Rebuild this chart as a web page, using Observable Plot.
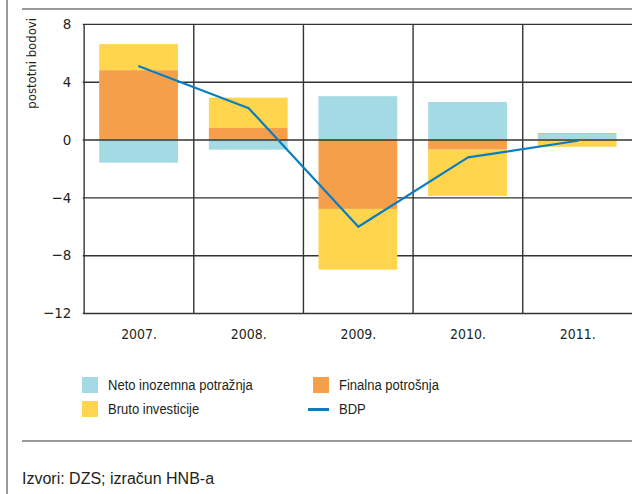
<!DOCTYPE html>
<html>
<head>
<meta charset="utf-8">
<script src="https://cdn.jsdelivr.net/npm/d3@7"></script>
<script src="https://cdn.jsdelivr.net/npm/@observablehq/plot@0.6"></script>
<style>
  html, body { margin: 0; padding: 0; background: #fff; overflow: hidden; }
  #wrap { position: relative; width: 632px; height: 494px; overflow: hidden; background: #fff; }
  .narrow { font-family: "Liberation Sans Narrow", "Arial Narrow", "DejaVu Sans Condensed", sans-serif; color: #231f20; }
  .cond { font-family: "Liberation Sans", Arial, sans-serif; color: #231f20; transform: scaleX(0.84); transform-origin: 0 50%; }
  .abs { position: absolute; }
  #chart { position: absolute; left: 0; top: 0; }
</style>
</head>
<body>
<div id="wrap">
  <div class="abs" style="left:6px;top:0;width:1.5px;height:494px;background:#9a9a9a"></div>
  <div class="abs" style="left:22px;top:8px;width:610px;height:2px;background:#9a9a9a"></div>
  <div class="abs" style="left:22px;top:440px;width:610px;height:2px;background:#9a9a9a"></div>
  <div id="chart"></div>
  <div id="ylabel" class="abs narrow" style="left:24px;top:18px;font-size:13px;line-height:16px;writing-mode:vertical-rl;transform:rotate(180deg);white-space:nowrap">postotni bodovi</div>
  <div id="legend"></div>
  <div class="abs" style="left:22px;top:470px;font-family:'Liberation Sans',Arial,sans-serif;font-size:16px;color:#231f20">Izvori: DZS; izračun HNB-a</div>
</div>
<script>
const years = ["2007.", "2008.", "2009.", "2010.", "2011."];
const seriesNames = ["Neto inozemna potražnja", "Finalna potrošnja", "Bruto investicije"];
const netoInozemna = [-1.6, -0.7, 3.0, 2.6, 0.4];
const finalnaPotrosnja = [4.8, 0.8, -4.8, -0.7, 0.05];
const brutoInvesticije = [1.8, 2.1, -4.2, -3.2, -0.5];
const bdp = [5.1, 2.2, -6.0, -1.2, -0.05];
const yTicks = [-12, -8, -4, 0, 4, 8];
const colors = ["#A3DAE3", "#F69F4A", "#FED54C"];
const lineColor = "#0A7DC0";

const seriesValues = [netoInozemna, finalnaPotrosnja, brutoInvesticije];
const barData = [];
seriesNames.forEach((s, i) => years.forEach((y, j) => barData.push({year: y, series: s, value: seriesValues[i][j]})));
const lineData = years.map((y, j) => ({year: y, value: bdp[j]}));

const W = 634, H = 345, mL = 83, mR = 0, mT = 24, mB = 31;
const step = (W - mL - mR) / years.length;
const gridColor = "#333";

const chart = Plot.plot({
  width: W, height: H,
  marginLeft: mL, marginRight: mR, marginTop: mT, marginBottom: mB,
  style: {fontFamily: '"Liberation Sans Narrow", "Arial Narrow", "DejaVu Sans Condensed", sans-serif', fontSize: "14px", color: "#231f20", background: "transparent"},
  x: {domain: years, padding: 0, label: null},
  y: {domain: [-12, 8], label: null},
  color: {domain: seriesNames, range: colors},
  marks: [
    Plot.ruleY(yTicks.filter(d => d !== 0), {stroke: gridColor, strokeWidth: 1.4}),
    Plot.ruleX(years, {x: d => d, dx: -step / 2, stroke: gridColor, strokeWidth: 1.4}),
    Plot.barY(barData, Plot.stackY({order: null}, {x: "year", y: "value", fill: "series", insetLeft: 15.5, insetRight: 15.5})),
    Plot.ruleY([0], {stroke: gridColor, strokeWidth: 1.4}),
    Plot.line(lineData, {x: "year", y: "value", stroke: lineColor, strokeWidth: 2.2}),
    Plot.axisY(yTicks, {tickSize: 0, tickPadding: 12, fontSize: 15}),
    Plot.axisX({tickSize: 0, tickPadding: 16, fontSize: 14})
  ]
});
document.getElementById("chart").appendChild(chart);

const legend = document.getElementById("legend");
const items = [
  {label: seriesNames[0], color: colors[0], x: 82, y: 377, kind: "box"},
  {label: seriesNames[2], color: colors[2], x: 82, y: 401, kind: "box"},
  {label: seriesNames[1], color: colors[1], x: 313, y: 377, kind: "box"},
  {label: "BDP", color: lineColor, x: 308, y: 401, kind: "line"}
];
items.forEach(it => {
  const sw = document.createElement("div");
  sw.className = "abs";
  if (it.kind === "box") {
    sw.style.cssText = `left:${it.x}px;top:${it.y}px;width:16px;height:16px;background:${it.color}`;
  } else {
    sw.style.cssText = `left:${it.x}px;top:${it.y + 7}px;width:21px;height:2.5px;background:${it.color}`;
  }
  legend.appendChild(sw);
  const tx = document.createElement("div");
  tx.className = "abs cond";
  const tl = it.kind === "box" ? it.x + 26 : 339;
  tx.style.left = tl + "px";
  tx.style.top = (it.y - 1) + "px";
  tx.style.fontSize = "15.5px";
  tx.style.lineHeight = "18px";
  tx.style.whiteSpace = "nowrap";
  tx.textContent = it.label;
  legend.appendChild(tx);
});
</script>
</body>
</html>
